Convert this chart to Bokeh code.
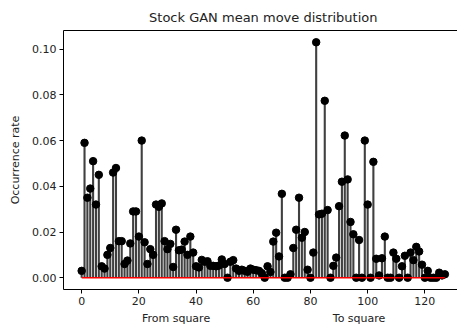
from bokeh.plotting import figure
from bokeh.models import (Range1d, NumeralTickFormatter, ColumnDataSource,
                          LinearAxis, FixedTicker)
from bokeh.embed import file_html
from bokeh.resources import INLINE

# Occurrence rate per square index (0-63 from square, 64-127 to square)
rate = [
    0.003, 0.059, 0.035, 0.039, 0.051, 0.032, 0.045, 0.005, 0.004, 0.010,
    0.013, 0.046, 0.048, 0.016, 0.016, 0.006, 0.0075, 0.015, 0.029, 0.029,
    0.018, 0.060, 0.0155, 0.006, 0.0125, 0.010, 0.032, 0.031, 0.0325, 0.016,
    0.0125, 0.0148, 0.0047, 0.021, 0.012, 0.0123, 0.0158, 0.010, 0.018, 0.011,
    0.005, 0.0045, 0.0078, 0.007, 0.0072, 0.0052, 0.0052, 0.005, 0.0053, 0.008,
    0.006, 0.0, 0.007, 0.0077, 0.004, 0.003, 0.0035, 0.003, 0.0026, 0.004,
    0.0035, 0.0033, 0.003, 0.002, 0.0, 0.005, 0.0025, 0.0158, 0.0197, 0.0093,
    0.0367, 0.0, 0.0, 0.0015, 0.013, 0.021, 0.035, 0.0175, 0.020, 0.0035,
    0.0, 0.011, 0.103, 0.0277, 0.028, 0.0774, 0.0296, 0.0, 0.0052, 0.0088,
    0.0313, 0.042, 0.0622, 0.043, 0.0244, 0.019, 0.0, 0.0165, 0.0, 0.060,
    0.032, 0.0, 0.0507, 0.0083, 0.001, 0.0085, 0.018, 0.0, 0.0, 0.011,
    0.0083, 0.0, 0.005, 0.0096, 0.0, 0.011, 0.0077, 0.0135, 0.0115, 0.0057,
    0.0, 0.003, 0.0, 0.0, 0.0, 0.0022, 0.001, 0.0015,
]
squares = list(range(len(rate)))
baseline = [0.0] * len(rate)

x_ticks = [0, 20, 40, 60, 80, 100, 120]
y_ticks = [0.0, 0.02, 0.04, 0.06, 0.08, 0.10]
title_text = "Stock GAN mean move distribution"
y_label = "Occurrence rate"
x_labels = ["From square", "To square"]
x_label_pos = [33, 97]

FONT = "DejaVu Sans"
TXT = "#222222"
n = len(rate)
x_lo = -0.05 * (n - 1)
x_hi_full = 1.05 * (n - 1)
y_max = max(rate)
y_min = min(0.0, min(rate))
pad = 0.05 * (y_max - y_min)
y_lo, y_hi = y_min - pad, y_max + pad

W, H = 457, 328
ML, MR, MT, MB = 63, 0, 30, 39
frame_w = W - ML - MR
px_per_x = 2.86
x_hi = x_lo + frame_w / px_per_x

p = figure(width=W, height=H, output_backend="svg", toolbar_location=None,
           x_range=Range1d(x_lo, x_hi), y_range=Range1d(y_lo, y_hi),
           min_border_left=ML, min_border_right=MR, min_border_top=MT,
           min_border_bottom=MB, title=None)
p.outline_line_color = None
p.background_fill_color = "white"
p.border_fill_color = "white"
p.xgrid.visible = False
p.ygrid.visible = False

src = ColumnDataSource(dict(x=squares, y=rate, y0=baseline))
p.segment(x0="x", y0="y0", x1="x", y1="y", source=src,
          line_color="#404040", line_width=2.1)
p.scatter(x="x", y="y", source=src, size=7.5, fill_color="black",
          line_color="black", marker="circle")
p.line(x=[squares[0], squares[-1]], y=[0.0, 0.0], line_color="#ff0000",
       line_width=1.5)

for ax in (p.xaxis, p.yaxis):
    ax.axis_line_color = "black"
    ax.axis_line_width = 1
    ax.major_tick_line_color = "black"
    ax.major_tick_out = 4
    ax.major_tick_in = 0
    ax.minor_tick_line_color = None
    ax.major_label_text_font = FONT
    ax.major_label_text_font_size = "11px"
    ax.major_label_text_color = TXT
    ax.major_label_standoff = 3

p.xaxis.ticker = x_ticks
p.yaxis.ticker = y_ticks
p.yaxis.formatter = NumeralTickFormatter(format="0.00")
p.yaxis.axis_label = y_label
p.yaxis.axis_label_text_font = FONT
p.yaxis.axis_label_text_font_size = "11px"
p.yaxis.axis_label_text_font_style = "normal"
p.yaxis.axis_label_text_color = TXT
p.yaxis.axis_label_standoff = 7

# top spine + title, as an axis above the frame
title_pos = (x_lo + x_hi_full) / 2
top = LinearAxis(ticker=FixedTicker(ticks=[title_pos]),
                 major_label_overrides={title_pos: title_text})
top.axis_line_color = "black"
top.axis_line_width = 1
top.major_tick_line_color = None
top.minor_tick_line_color = None
top.major_tick_out = 0
top.major_tick_in = 0
top.major_label_standoff = 6
top.major_label_text_font = FONT
top.major_label_text_font_size = "13px"
top.major_label_text_color = TXT
p.add_layout(top, "above")

# the two x-axis captions, as a second axis below
cap = LinearAxis(ticker=FixedTicker(ticks=x_label_pos),
                 major_label_overrides={k: v for k, v in zip(x_label_pos, x_labels)})
cap.axis_line_color = None
cap.major_tick_line_color = None
cap.minor_tick_line_color = None
cap.major_tick_out = 0
cap.major_tick_in = 0
cap.major_label_standoff = 4
cap.major_label_text_font = FONT
cap.major_label_text_font_size = "11px"
cap.major_label_text_color = TXT
p.add_layout(cap, "below")

open("out.html", "w").write(file_html(p, INLINE))
